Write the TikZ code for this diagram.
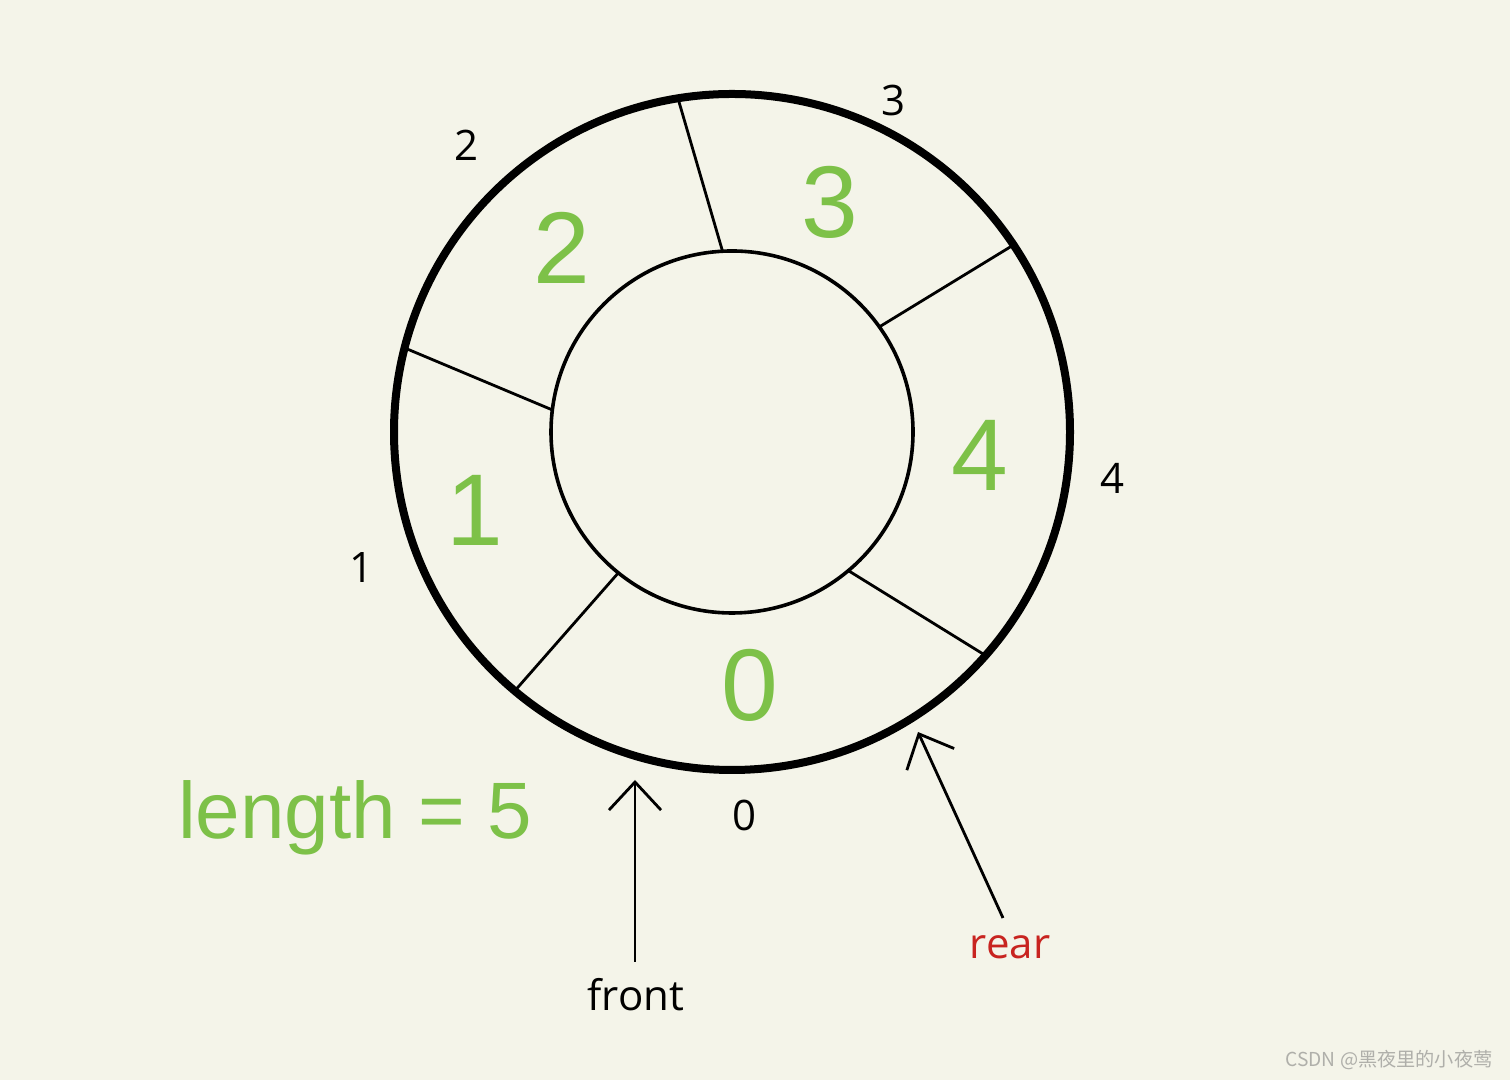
\documentclass[tikz,border=0pt]{standalone}
\usepackage{fontspec}
\setmainfont{Liberation Sans}
\newfontfamily\labfont{Open Sans}
\newfontfamily\cjkfont{Noto Sans CJK SC}
\usetikzlibrary{arrows.meta,calc}
\definecolor{bg}{RGB}{244,244,233}
\definecolor{qgreen}{RGB}{125,193,72}
\definecolor{qred}{RGB}{200,36,32}
\definecolor{wm}{RGB}{175,175,170}
\tikzset{
  outerring/.style={line width=4pt},
  innerring/.style={line width=1.8pt},
  divider/.style={line width=1.4pt},
  slotnum/.style={text=qgreen, font=\fontsize{51}{51}\selectfont, inner sep=0pt},
  idx/.style={text=black, font=\labfont\fontsize{21}{21}\selectfont, inner sep=0pt},
  ptr/.style={line width=1.4pt, -{Straight Barb[length=14pt,width=26pt,line width=1.4pt]}},
  ptrlabel/.style={font=\labfont\fontsize{21}{21}\selectfont, inner sep=0pt}
}
\begin{document}
\begin{tikzpicture}[x=0.5pt,y=0.5pt]
\fill[bg] (0,0) rectangle (1510,1080);
\useasboundingbox (0,0) rectangle (1510,1080);
\coordinate (C) at (732,648);
\draw[outerring] (C) circle[radius=338];
\draw[innerring] (C) circle[radius=181];
% dividers
\coordinate (o1) at ($(C)+(99.2:338)$);  \coordinate (i1) at ($(C)+(93:181)$);
\coordinate (o2) at ($(C)+(33.6:338)$);  \coordinate (i2) at ($(C)+(35.5:181)$);
\coordinate (o3) at ($(C)+(-41.4:338)$); \coordinate (i3) at ($(C)+(-50:181)$);
\coordinate (o4) at ($(C)+(-130:338)$);  \coordinate (i4) at ($(C)+(-128.9:181)$);
\coordinate (o5) at ($(C)+(165.6:338)$); \coordinate (i5) at ($(C)+(173:181)$);
\foreach \k in {1,...,5} \draw[divider] (i\k) -- (o\k);
% slot numbers
\node[slotnum] (s0) at (750,395) {0};
\node[slotnum] (s1) at (475,570) {1};
\node[slotnum] (s2) at (562,832) {2};
\node[slotnum] (s3) at (830,878) {3};
\node[slotnum] (s4) at (980,625) {4};
% index labels
\node[idx] (x0) at (744,265) {0};
\node[idx] (x1) at (362,512) {1};
\node[idx] (x2) at (467,935) {2};
\node[idx] (x3) at (893,979) {3};
\node[idx] (x4) at (1112,602) {4};
% length
\node[text=qgreen, font=\fontsize{40}{40}\selectfont, inner sep=0pt] (len) at (355,262) {length = 5};
% pointers
\node[ptrlabel, text=black] (front) at (636,85) {front};
\node[ptrlabel, text=qred] (rear) at (1010,133) {rear};
\coordinate (fs) at (635,118);
\coordinate (ft) at (635,300);
\coordinate (rs) at (1003,162);
\coordinate (rt) at (918,348);
\draw[ptr] (fs) -- (ft);
\draw[ptr] (rs) -- (rt);
% watermark
\node[text=wm, font=\cjkfont\fontsize{9.6}{9.6}\selectfont, inner sep=0pt] (wmk) at (1389,20) {CSDN @黑夜里的小夜莺};
\end{tikzpicture}
\end{document}
